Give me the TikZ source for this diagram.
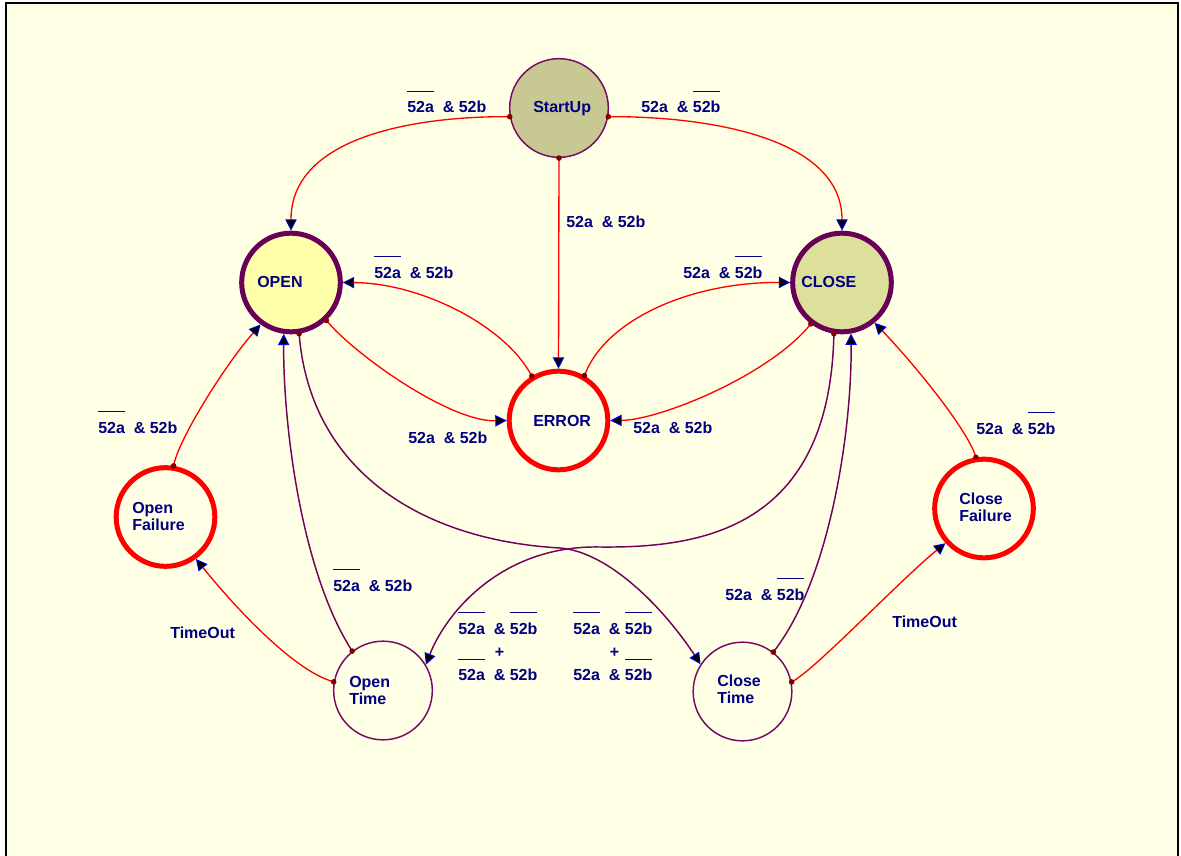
\documentclass[tikz,border=0pt]{standalone}
\usepackage{fontspec}
\usepackage{calc}
\setmainfont{Liberation Sans}
\usetikzlibrary{arrows.meta}

\definecolor{paper}{RGB}{255,255,230}
\definecolor{labelnavy}{RGB}{0,0,128}
\definecolor{ringpurple}{RGB}{104,0,88}
\definecolor{thinpurple}{RGB}{120,10,100}
\definecolor{linepurple}{RGB}{115,0,90}
\definecolor{linered}{RGB}{255,0,0}
\definecolor{dotred}{RGB}{128,0,0}
\definecolor{tipblue}{RGB}{0,0,230}
\definecolor{startfill}{RGB}{200,200,146}
\definecolor{openfill}{RGB}{255,255,170}
\definecolor{closefill}{RGB}{221,224,155}

% negated signal: text with a bar above it
\newcommand\ovl[1]{{\setbox0=\hbox{#1}\rlap{\raisebox{15.4pt}{\rule{\wd0}{1pt}}}\box0}}
\newcommand\twolines[2]{\vtop{\baselineskip=12.75pt\hbox{#1}\hbox{#2}}}

\tikzset{
  every node/.style={font=\fontsize{12pt}{13pt}\selectfont\bfseries, text=labelnavy},
  state/.style={circle, inner sep=0pt, minimum size=74pt},
  thinstate/.style={state, draw=thinpurple, line width=1.1pt},
  mainstate/.style={state, draw=ringpurple, line width=3.75pt},
  faultstate/.style={state, draw=linered, line width=3.75pt, fill=paper},
  lab/.style={inner sep=0pt, anchor=base west},
  tip/.tip={Triangle[length=8.5pt, width=8.5pt, fill=black, color=tipblue, line width=0.7pt]},
  redline/.style={draw=linered, line width=1pt, -tip},
  purpleline/.style={draw=linepurple, line width=1.1pt, -tip},
  srcdot/.style={fill=dotred},
}

\begin{document}
\begin{tikzpicture}[x=0.75pt, y=-0.75pt]
\useasboundingbox (0,0) rectangle (1181,856);
\fill[white] (0,0) rectangle (1181,856);
\begin{scope}
  \clip (0,0) rectangle (1181,856);
  \draw[fill=paper, line width=1.6pt] (6,3) rectangle (1178,900);
\end{scope}

% states
\node[thinstate, fill=startfill] (startup) at (559,108) {};
\node[mainstate, fill=openfill] (open) at (291,282.5) {};
\node[mainstate, fill=closefill] (close) at (842,282.5) {};
\node[faultstate] (error) at (558.5,420.5) {};
\node[faultstate] (openfail) at (165.5,517) {};
\node[faultstate] (closefail) at (984,508.5) {};
\node[thinstate, fill=paper] (opentime) at (383,690.5) {};
\node[thinstate, fill=paper] (closetime) at (742.5,691.5) {};

% state names
\node[lab] (startup-t) at (533,113) {StartUp};
\node[lab] (open-t) at (257,287) {OPEN};
\node[lab] (close-t) at (801,287) {CLOSE};
\node[lab] (error-t) at (533,426) {ERROR};
\node[lab] (openfail-t) at (132,513) {\twolines{Open}{Failure}};
\node[lab] (closefail-t) at (959,504) {\twolines{Close}{Failure}};
\node[lab] (opentime-t) at (349,687) {\twolines{Open}{Time}};
\node[lab] (closetime-t) at (717,686) {\twolines{Close}{Time}};

% transitions
\draw[redline] (startup.190) .. controls (420,116) and (291,135) .. (open.90);
\fill[srcdot] (startup.190) circle (2.8);
\draw[redline] (startup.350) .. controls (700,116) and (842,135) .. (close.90);
\fill[srcdot] (startup.350) circle (2.8);
\draw[redline] (startup.270) -- (error.90);
\fill[srcdot] (startup.270) circle (2.8);

\draw[redline] (error.121) .. controls (505,325) and (420,283) .. (open.0);
\fill[srcdot] (error.121) circle (2.8);
\draw[redline] (open.313) .. controls (355,355) and (450,422) .. (error.180);
\fill[srcdot] (open.313) circle (2.8);
\draw[redline] (error.60) .. controls (605,320) and (690,282) .. (close.180);
\fill[srcdot] (error.60) circle (2.8);
\draw[redline] (close.233) .. controls (770,375) and (660,420) .. (error.0);
\fill[srcdot] (close.233) circle (2.8);

\draw[purpleline] (open.279) .. controls (310,470) and (420,540) .. (560,548)
  .. controls (610,552) and (665,610) .. (closetime.147);
\fill[srcdot] (open.279) circle (2.8);
\draw[purpleline] (close.261) .. controls (830,530) and (700,548) .. (600,547)
  .. controls (500,545) and (445,615) .. (opentime.31);
\fill[srcdot] (close.261) circle (2.8);
\draw[purpleline] (opentime.128) .. controls (300,570) and (283,420) .. (open.262);
\fill[srcdot] (opentime.128) circle (2.8);
\draw[purpleline] (closetime.52) .. controls (830,580) and (852,430) .. (close.280);
\fill[srcdot] (closetime.52) circle (2.8);

\draw[redline] (opentime.170) .. controls (290,670) and (225,595) .. (openfail.306);
\fill[srcdot] (opentime.170) circle (2.8);
\draw[redline] (openfail.81) .. controls (178,440) and (225,365) .. (open.234);
\fill[srcdot] (openfail.81) circle (2.8);
\draw[redline] (closetime.11) .. controls (815,670) and (900,580) .. (closefail.222);
\fill[srcdot] (closetime.11) circle (2.8);
\draw[redline] (closefail.99) .. controls (968,430) and (915,365) .. (close.309);
\fill[srcdot] (closefail.99) circle (2.8);

% transition conditions
\node[lab] (c1) at (407,113) {\ovl{52a}~~\& 52b};
\node[lab] (c2) at (641,113) {52a~~\& \ovl{52b}};
\node[lab] (c3) at (566,227) {52a~~\& 52b};
\node[lab] (c4) at (374,278) {\ovl{52a}~~\& 52b};
\node[lab] (c5) at (408,443) {52a~~\& 52b};
\node[lab] (c6) at (683,278) {52a~~\& \ovl{52b}};
\node[lab] (c7) at (633,433) {52a~~\& 52b};
\node[lab] (c8) at (98,433) {\ovl{52a}~~\& 52b};
\node[lab] (c9) at (333,591) {\ovl{52a}~~\& 52b};
\node[lab] (c10) at (170,638) {TimeOut};
\node[lab] (c11) at (458,634) {\vtop{\baselineskip=17.5pt
  \hbox{\ovl{52a}~~\& \ovl{52b}}
  \hbox{\hphantom{52a~~}\makebox[\widthof{\&}]{+}}
  \hbox{\ovl{52a}~~\& 52b}}};
\node[lab] (c12) at (573,634) {\vtop{\baselineskip=17.5pt
  \hbox{\ovl{52a}~~\& \ovl{52b}}
  \hbox{\hphantom{52a~~}\makebox[\widthof{\&}]{+}}
  \hbox{52a~~\& \ovl{52b}}}};
\node[lab] (c13) at (725,600) {52a~~\& \ovl{52b}};
\node[lab] (c14) at (892,627) {TimeOut};
\node[lab] (c15) at (976,434) {52a~~\& \ovl{52b}};
\end{tikzpicture}
\end{document}
